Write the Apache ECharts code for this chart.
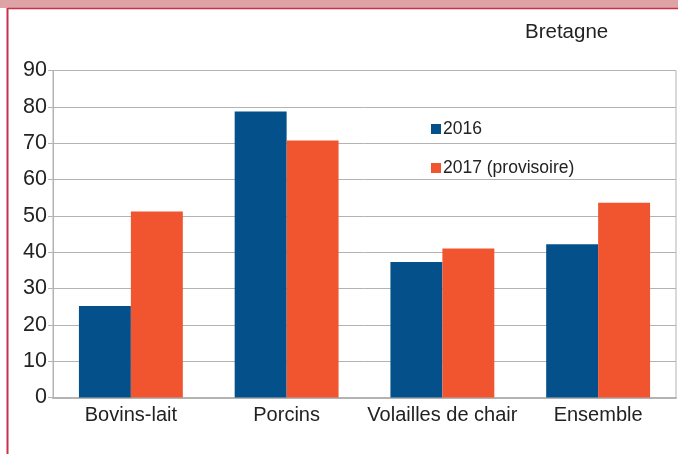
<!DOCTYPE html>
<html>
<head>
<meta charset="utf-8">
<script src="https://cdn.jsdelivr.net/npm/echarts@6/dist/echarts.min.js"></script>
<style>
  html, body { margin: 0; padding: 0; background: #fff; }
  #chart { width: 678px; height: 454px; }
</style>
</head>
<body>
<div id="chart"></div>
<script>
const categories = ['Bovins-lait', 'Porcins', 'Volailles de chair', 'Ensemble']
const values2016 = [25.2, 78.7, 37.3, 42.2]
const values2017 = [51.2, 70.7, 41.0, 53.6]
const seriesNames = ['2016', '2017 (provisoire)']

const font = '"Liberation Sans", Arial, sans-serif'

let myChart = echarts.init(document.getElementById('chart'))
myChart.setOption({
    animation: false,
    textStyle: { fontFamily: font },
    graphic: [
        // bandeau rose en haut + cadre rouge
        { type: 'rect', shape: { x: 0, y: 0, width: 678, height: 8 }, style: { fill: '#dea4a5' } },
        { type: 'line', shape: { x1: 7.5, y1: 8.5, x2: 678, y2: 8.5 }, style: { stroke: '#c9324c', lineWidth: 1.5 } },
        { type: 'line', shape: { x1: 7.5, y1: 8, x2: 7.5, y2: 454 }, style: { stroke: '#c9324c', lineWidth: 2 } },
        { type: 'text', left: 525, top: 22, style: { text: 'Bretagne', font: '20.5px ' + font, fill: '#222' } }
    ],
    legend: {
        orient: 'vertical',
        left: 426,
        top: 115,
        itemWidth: 10,
        itemHeight: 10,
        itemGap: 21,
        icon: 'rect',
        textStyle: { fontSize: 17.5, color: '#222', fontFamily: font, padding: [0, 0, 0, -3] },
        data: seriesNames
    },
    grid: {
        left: 53,
        top: 70.5,
        right: 2,
        bottom: 56.5,
        show: true,
        borderColor: '#b3b3b3',
        borderWidth: 1
    },
    xAxis: {
        type: 'category',
        data: categories,
        axisLine: { lineStyle: { color: '#b3b3b3', width: 2 } },
        axisTick: { show: false },
        axisLabel: { fontSize: 20, color: '#222', margin: 8, interval: 0 }
    },
    yAxis: {
        type: 'value',
        min: 0,
        max: 90,
        interval: 10,
        axisLine: { show: true, lineStyle: { color: '#b3b3b3' } },
        axisTick: { show: true, length: 5, lineStyle: { color: '#b3b3b3' } },
        splitLine: { lineStyle: { color: '#b3b3b3' } },
        axisLabel: { fontSize: 21.5, color: '#222', margin: 6 }
    },
    series: [
        {
            name: seriesNames[0],
            type: 'bar',
            data: values2016,
            barGap: '0%',
            barCategoryGap: '33.3%',
            itemStyle: { color: '#03508a' }
        },
        {
            name: seriesNames[1],
            type: 'bar',
            data: values2017,
            itemStyle: { color: '#f05530' }
        }
    ]
})
</script>
</body>
</html>
